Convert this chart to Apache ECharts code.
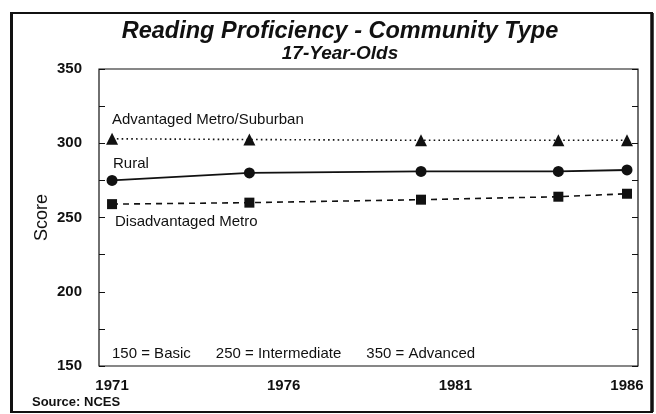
<!DOCTYPE html>
<html>
<head>
<meta charset="utf-8">
<script src="https://cdn.jsdelivr.net/npm/echarts@6/dist/echarts.min.js"></script>
<style>
  html, body { margin: 0; padding: 0; background: #fff; }
  #chart { width: 656px; height: 414px; }
</style>
</head>
<body>
<div id="chart"></div>
<script>
const years = [1971, 1975, 1980, 1984, 1986];
const advantaged = [303, 302.5, 302, 302, 302];
const rural = [275, 280, 281, 281, 282];
const disadvantaged = [259, 260, 262, 264, 266];
const yearLabels = [1971, 1976, 1981, 1986];

const font = 'Liberation Sans';
const ink = '#111';

const pairs = (vals) => years.map((y, i) => [y, vals[i]]);

const chart = echarts.init(document.getElementById('chart'));

const option = {
  animation: false,
  backgroundColor: '#fff',
  title: {
    text: 'Reading Proficiency - Community Type',
    subtext: '17-Year-Olds',
    left: 335,
    textAlign: 'center',
    top: 15,
    itemGap: 1,
    textStyle: { fontFamily: font, fontSize: 23.5, fontWeight: 'bold', fontStyle: 'italic', color: ink },
    subtextStyle: { fontFamily: font, fontSize: 19, fontWeight: 'bold', fontStyle: 'italic', color: ink }
  },
  grid: {
    left: 99,
    right: 18,
    top: 69,
    bottom: 48,
    show: true,
    borderColor: ink,
    borderWidth: 1.2
  },
  xAxis: {
    type: 'value',
    min: 1970.62,
    max: 1986.32,
    splitLine: { show: false },
    axisLine: { show: false },
    axisTick: { show: false },
    axisLabel: {
      customValues: yearLabels,
      formatter: (v) => String(v),
      margin: 12,
      fontFamily: font,
      fontSize: 15,
      fontWeight: 'bold',
      color: ink
    }
  },
  yAxis: [
    {
      type: 'value',
      min: 150,
      max: 350,
      interval: 25,
      name: 'Score',
      nameLocation: 'middle',
      nameGap: 48,
      nameMoveOverlap: false,
      nameTextStyle: { fontFamily: font, fontSize: 18, color: ink },
      splitLine: { show: false },
      axisLine: { show: false },
      axisTick: { show: true, inside: true, length: 6, lineStyle: { color: ink } },
      axisLabel: {
        margin: 17,
        fontFamily: font,
        fontSize: 15,
        fontWeight: 'bold',
        color: ink,
        formatter: (v) => (v % 50 === 0 ? String(v) : '')
      }
    },
    {
      type: 'value',
      position: 'right',
      min: 150,
      max: 350,
      interval: 25,
      splitLine: { show: false },
      axisLine: { show: false },
      axisTick: { show: true, inside: true, length: 6, lineStyle: { color: ink } },
      axisLabel: { show: false }
    }
  ],
  series: [
    {
      name: 'Advantaged Metro/Suburban',
      type: 'line',
      data: pairs(advantaged),
      symbol: 'triangle',
      symbolSize: 12,
      itemStyle: { color: ink },
      lineStyle: { color: ink, width: 1.6, type: [1.6, 3.2] }
    },
    {
      name: 'Rural',
      type: 'line',
      data: pairs(rural),
      symbol: 'circle',
      symbolSize: 11,
      itemStyle: { color: ink },
      lineStyle: { color: ink, width: 1.8 }
    },
    {
      name: 'Disadvantaged Metro',
      type: 'line',
      data: pairs(disadvantaged),
      symbol: 'rect',
      symbolSize: 10,
      itemStyle: { color: ink },
      lineStyle: { color: ink, width: 1.6, type: [6, 5] }
    }
  ],
  graphic: [
    // outer frame
    { type: 'rect', shape: { x: 11, y: 13, width: 641, height: 399 }, style: { fill: 'none', stroke: ink, lineWidth: 2 } },
    { type: 'line', shape: { x1: 11.5, y1: 13, x2: 11.5, y2: 412 }, style: { stroke: ink, lineWidth: 3 } },
    { type: 'line', shape: { x1: 652, y1: 13, x2: 652, y2: 412 }, style: { stroke: ink, lineWidth: 3.5 } },
    // annotations
    { type: 'text', left: 112, top: 112, style: { text: 'Advantaged Metro/Suburban', font: '15px "Liberation Sans"', fill: ink } },
    { type: 'text', left: 113, top: 156, style: { text: 'Rural', font: '15px "Liberation Sans"', fill: ink } },
    { type: 'text', left: 115, top: 214, style: { text: 'Disadvantaged Metro', font: '15px "Liberation Sans"', fill: ink } },
    { type: 'text', left: 112, top: 346, style: { text: '150 = Basic      250 = Intermediate      350 = Advanced', font: '15px "Liberation Sans"', fill: ink } },
    { type: 'text', left: 32, top: 396, style: { text: 'Source: NCES', font: 'bold 13px "Liberation Sans"', fill: ink } }
  ]
};

chart.setOption(option);
</script>
</body>
</html>
